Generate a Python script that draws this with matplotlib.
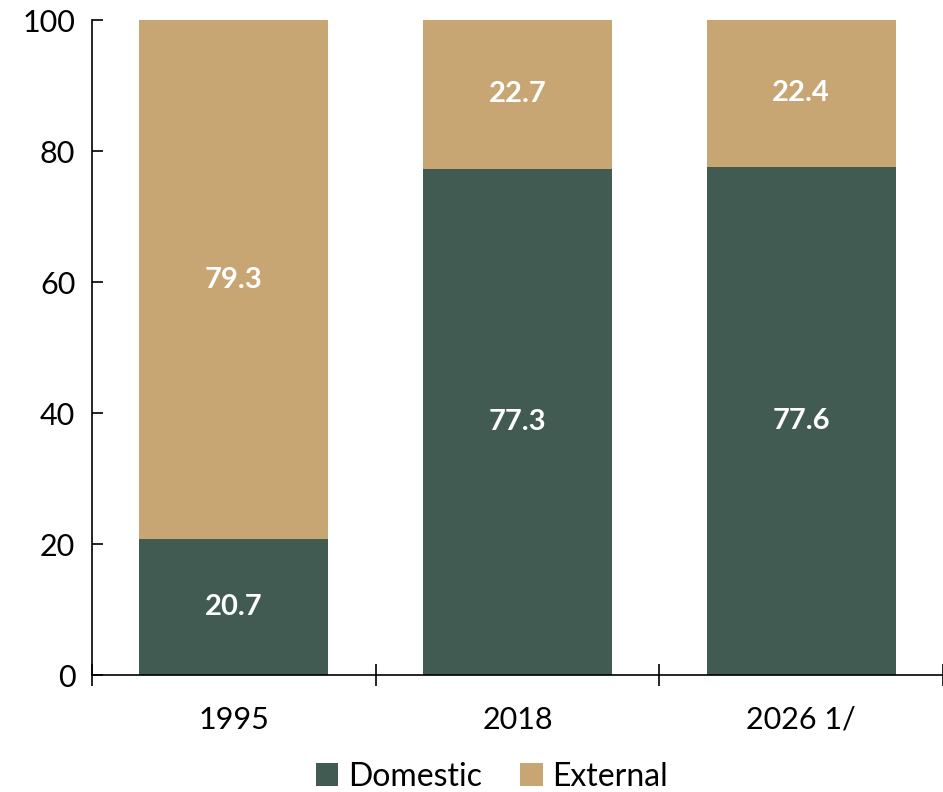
import matplotlib.pyplot as plt
import numpy as np

years = ["1995", "2018", "2026 1/"]
domestic = [20.7, 77.3, 77.6]
external = [79.3, 22.7, 22.4]

c_dom = "#415B52"
c_ext = "#C8A674"

plt.rcParams['font.family'] = ['Lato', 'DejaVu Sans']

fig = plt.figure(figsize=(9.43, 7.92), dpi=100)
ax = fig.add_axes([0.0976, 0.1477, 0.9024, 0.827])

x = np.arange(len(years))
w = 0.667
ax.bar(x, domestic, w, color=c_dom, label="Domestic")
ax.bar(x, external, w, bottom=domestic, color=c_ext, label="External")

for i in range(len(years)):
    ax.text(x[i], domestic[i] / 2, f"{domestic[i]:.1f}", ha='center', va='center',
            color='white', fontsize=21, fontweight='bold')
    ax.text(x[i], domestic[i] + external[i] / 2, f"{external[i]:.1f}", ha='center', va='center',
            color='white', fontsize=21, fontweight='bold')

ax.set_xlim(-0.5, 2.5)
ax.set_ylim(0, 100)
ax.set_yticks([0, 20, 40, 60, 80, 100])
ax.tick_params(axis='y', direction='in', length=8, width=1.2, labelsize=22, pad=12)

ax.set_xticks(x)
ax.set_xticklabels(years)
ax.tick_params(axis='x', which='major', length=0, labelsize=22, pad=22)
ax.set_xticks([-0.5, 0.5, 1.5, 2.5], minor=True)
ax.tick_params(axis='x', which='minor', direction='inout', length=16, width=1.2)

for s in ['top', 'right']:
    ax.spines[s].set_visible(False)
for s in ['left', 'bottom']:
    ax.spines[s].set_linewidth(1.2)

ax.legend(loc='center', bbox_to_anchor=(0.47, -0.155), ncol=2, frameon=False,
          fontsize=23, handlelength=0.7, handleheight=0.7, handletextpad=0.3,
          columnspacing=1.2)

fig.savefig("out.png", dpi=100)
